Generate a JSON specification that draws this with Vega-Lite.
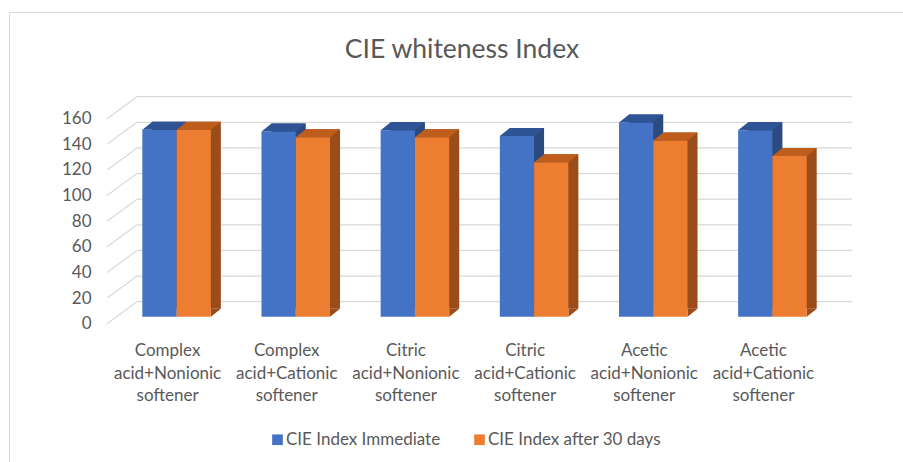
{
  "$schema": "https://vega.github.io/schema/vega-lite/v6.json",
  "width": 894,
  "height": 450,
  "autosize": {"type": "none"},
  "padding": {"left": 9, "top": 12, "right": 0, "bottom": 0},
  "background": "#ffffff",
  "view": {"stroke": "#d9d9d9", "strokeWidth": 1, "strokeDash": [894, 1344, 450, 0]},
  "config": {"font": "Lato"},
  "title": {
    "text": "CIE whiteness Index",
    "font": "Lato",
    "fontSize": 26.5,
    "fontWeight": "normal",
    "color": "#595959",
    "anchor": "middle",
    "frame": "group",
    "baseline": "alphabetic",
    "offset": -72,
    "dx": 6
  },
  "datasets": {
    "scores": [
      {"category": "Complex acid+Nonionic softener", "series": "CIE Index Immediate", "value": 146},
      {"category": "Complex acid+Nonionic softener", "series": "CIE Index after 30 days", "value": 146},
      {"category": "Complex acid+Cationic softener", "series": "CIE Index Immediate", "value": 144.5},
      {"category": "Complex acid+Cationic softener", "series": "CIE Index after 30 days", "value": 140},
      {"category": "Citric acid+Nonionic softener", "series": "CIE Index Immediate", "value": 145.5},
      {"category": "Citric acid+Nonionic softener", "series": "CIE Index after 30 days", "value": 140},
      {"category": "Citric acid+Cationic softener", "series": "CIE Index Immediate", "value": 141},
      {"category": "Citric acid+Cationic softener", "series": "CIE Index after 30 days", "value": 120.5},
      {"category": "Acetic acid+Nonionic softener", "series": "CIE Index Immediate", "value": 151.5},
      {"category": "Acetic acid+Nonionic softener", "series": "CIE Index after 30 days", "value": 137.5},
      {"category": "Acetic acid+Cationic softener", "series": "CIE Index Immediate", "value": 145.5},
      {"category": "Acetic acid+Cationic softener", "series": "CIE Index after 30 days", "value": 125.5}
    ],
    "ticks": [
      {"v": 0}, {"v": 20}, {"v": 40}, {"v": 60}, {"v": 80},
      {"v": 100}, {"v": 120}, {"v": 140}, {"v": 160}
    ]
  },
  "layer": [
    {
      "data": {"name": "ticks"},
      "encoding": {
        "y": {
          "field": "v",
          "type": "quantitative",
          "scale": {"domain": [0, 160], "range": [304.7, 99.7], "nice": false, "zero": false},
          "axis": {
            "values": [0, 20, 40, 60, 80, 100, 120, 140, 160],
            "orient": "left",
            "offset": -84,
            "labelPadding": 2,
            "ticks": false,
            "domain": false,
            "grid": false,
            "title": null,
            "labelFont": "Lato",
            "labelFontSize": 17,
            "labelColor": "#595959",
            "labelOffset": 7
          }
        },
        "x": {
          "datum": 0,
          "type": "quantitative",
          "scale": {"domain": [0, 1], "range": [108, 823], "nice": false, "zero": false},
          "axis": null
        }
      },
      "layer": [
        {
          "mark": {"type": "rule", "color": "#d9d9d9", "strokeWidth": 1.2, "xOffset": 20, "x2Offset": 20, "yOffset": -15},
          "encoding": {"x2": {"datum": 1}}
        },
        {
          "mark": {"type": "rule", "color": "#d9d9d9", "strokeWidth": 1.2, "xOffset": -10, "x2Offset": 20, "yOffset": 7, "y2Offset": -15},
          "encoding": {"x2": {"datum": 0}, "y2": {"field": "v"}}
        }
      ]
    },
    {
      "data": {"name": "scores"},
      "encoding": {
        "x": {
          "field": "category",
          "type": "nominal",
          "sort": null,
          "scale": {
            "domain": [
              "Complex acid+Nonionic softener",
              "Complex acid+Cationic softener",
              "Citric acid+Nonionic softener",
              "Citric acid+Cationic softener",
              "Acetic acid+Nonionic softener",
              "Acetic acid+Cationic softener"
            ],
            "range": [108, 823],
            "paddingInner": 0.425,
            "paddingOuter": 0.2125
          },
          "axis": {
            "orient": "bottom",
            "offset": -111.5,
            "labelPadding": 0,
            "ticks": false,
            "domain": false,
            "grid": false,
            "title": null,
            "labelAngle": 0,
            "labelAlign": "center",
            "labelBaseline": "middle",
            "labelExpr": "split(datum.value, ' ')",
            "labelLineHeight": 22.5,
            "labelFont": "Lato",
            "labelFontSize": 17,
            "labelColor": "#595959",
            "labelOffset": -9,
            "labelOverlap": false,
            "labelLimit": 0
          }
        },
        "y": {"field": "value", "type": "quantitative"}
      },
      "layer": [
        {
          "transform": [{"filter": "datum.series == 'CIE Index Immediate'"}],
          "mark": {"type": "bar", "width": 34.27, "xOffset": -7.135, "yOffset": -8, "y2Offset": -8, "color": "#2A4A80"}
        },
        {
          "transform": [{"filter": "datum.series == 'CIE Index Immediate'"}],
          "mark": {"type": "point", "shape": "M 17.135 0 L 27.135 -8 L 17.135 -8 Z", "size": 4, "filled": true, "opacity": 1, "strokeWidth": 0, "color": "#2A4A80", "xOffset": -17.135},
          "encoding": {"y": {"datum": 0, "type": "quantitative"}}
        },
        {
          "transform": [{"filter": "datum.series == 'CIE Index Immediate'"}],
          "mark": {"type": "bar", "width": 34.27, "xOffset": -17.135},
          "encoding": {
            "color": {
              "field": "series",
              "type": "nominal",
              "scale": {"domain": ["CIE Index Immediate", "CIE Index after 30 days"], "range": ["#4472C4", "#ED7D31"]},
              "legend": {
                "orient": "none",
                "legendX": 260,
                "legendY": 419,
                "direction": "horizontal",
                "title": null,
                "symbolType": "square",
                "symbolSize": 114,
                "symbolStrokeWidth": 0,
                "labelFont": "Lato",
                "labelFontSize": 17,
                "labelColor": "#595959",
                "labelOffset": 0,
                "labelLimit": 0,
                "columnPadding": 30,
                "padding": 0
              }
            }
          }
        },
        {
          "transform": [{"filter": "datum.series == 'CIE Index Immediate'"}],
          "mark": {"type": "point", "shape": "M -17.135 0 L 17.135 0 L 27.135 -8 L -7.135 -8 Z", "size": 4, "filled": true, "opacity": 1, "strokeWidth": 0, "color": "#2E5496", "xOffset": -17.135}
        },
        {
          "transform": [{"filter": "datum.series == 'CIE Index after 30 days'"}],
          "mark": {"type": "bar", "width": 34.27, "xOffset": 27.135, "yOffset": -8, "y2Offset": -8, "color": "#9A4C1B"}
        },
        {
          "transform": [{"filter": "datum.series == 'CIE Index after 30 days'"}],
          "mark": {"type": "point", "shape": "M 17.135 0 L 27.135 -8 L 17.135 -8 Z", "size": 4, "filled": true, "opacity": 1, "strokeWidth": 0, "color": "#9A4C1B", "xOffset": 17.135},
          "encoding": {"y": {"datum": 0, "type": "quantitative"}}
        },
        {
          "transform": [{"filter": "datum.series == 'CIE Index after 30 days'"}],
          "mark": {"type": "bar", "width": 34.27, "xOffset": 17.135},
          "encoding": {
            "color": {
              "field": "series",
              "type": "nominal",
              "scale": {"domain": ["CIE Index Immediate", "CIE Index after 30 days"], "range": ["#4472C4", "#ED7D31"]}
            }
          }
        },
        {
          "transform": [{"filter": "datum.series == 'CIE Index after 30 days'"}],
          "mark": {"type": "point", "shape": "M -17.135 0 L 17.135 0 L 27.135 -8 L -7.135 -8 Z", "size": 4, "filled": true, "opacity": 1, "strokeWidth": 0, "color": "#BF5E1C", "xOffset": 17.135}
        }
      ]
    }
  ],
  "resolve": {"scale": {"x": "independent"}}
}
